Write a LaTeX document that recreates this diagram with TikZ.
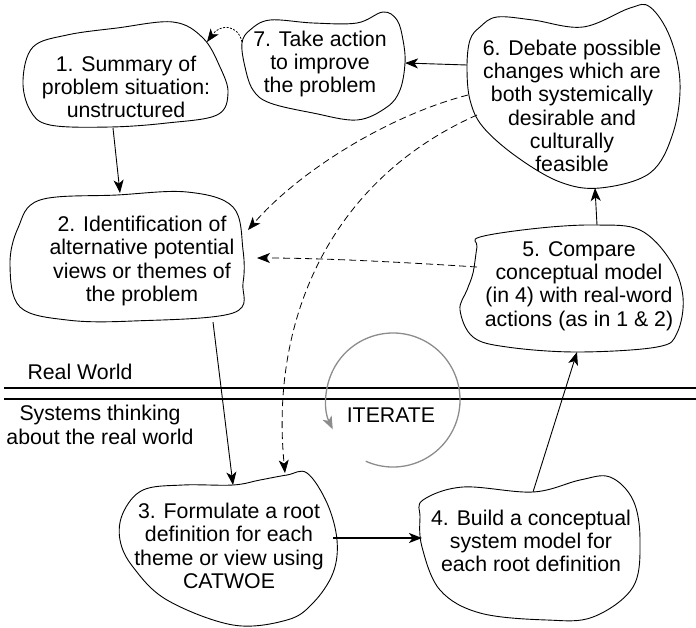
\documentclass[tikz,border=0pt]{standalone}
\usepackage{fontspec}
\setmainfont{Liberation Sans}
\usetikzlibrary{arrows.meta}
\tikzset{>={Stealth[length=13pt,width=10pt,inset=3.5pt]}}

\begin{document}
\begin{tikzpicture}[x=1pt,y=-1pt,
    txt/.style={align=center,font=\fontsize{21.3}{23.3}\selectfont,inner sep=0pt},
    blob/.style={line width=0.9pt},
    conn/.style={->,line width=0.9pt},
    dconn/.style={->,line width=0.8pt,dash pattern=on 7pt off 4pt}]
  \useasboundingbox (0,0) rectangle (696,627);

  % the seven stages
  \node[txt] (s1) at (126,87) {1. Summary of\\problem situation:\\unstructured};
  \draw[blob] plot[smooth cycle,tension=0.6] coordinates {(23,80) (33,47) (67,35) (117,28) (173,22) (203,38) (220,67) (228,93) (217,115) (167,123) (110,127) (50,125) (30,110)};

  \node[txt] (s2) at (142,261) {2. Identification of\\alternative potential\\views or themes of\\the problem};
  \draw[blob] plot[smooth cycle,tension=0.6] coordinates {(10,265) (18,228) (40,200) (117,195) (187,192) (233,207) (243,250) (243,283) (233,313) (133,321) (67,320) (20,307)};

  \node[txt] (s3) at (229,546) {3. Formulate a root\\definition for each\\theme or view using\\CATWOE};
  \draw[blob] plot[smooth cycle,tension=0.6] coordinates {(120,540) (123,513) (143,490) (183,485) (233,485) (260,480) (287,475) (307,473) (327,503) (337,540) (333,573) (313,603) (287,620) (233,625) (167,600) (133,567)};

  \node[txt] (s4) at (531,541) {4. Build a conceptual\\system model for\\each root definition};
  \draw[blob] plot[smooth cycle,tension=0.6] coordinates {(420,517) (423,500) (463,487) (533,492) (580,480) (610,477) (633,500) (640,540) (633,587) (593,617) (547,620) (480,613) (440,590) (422,547)};

  \node[txt] (s5) at (579,286) {5. Compare\\conceptual model\\(in 4) with real-word\\actions (as in 1 \& 2)};
  \draw[blob] plot[smooth cycle,tension=0.6] coordinates {(477,247) (480,237) (540,228) (597,225) (640,230) (670,260) (683,297) (677,333) (657,347) (577,352) (507,347) (473,337) (460,310) (467,290) (473,273)};

  \node[txt] (s6) at (572,106) {6. Debate possible\\changes which are\\both systemically\\desirable and\\culturally\\feasible};
  \draw[blob] plot[smooth cycle,tension=0.6] coordinates {(470,40) (480,27) (497,17) (533,20) (583,27) (630,8) (650,7) (670,37) (680,83) (673,133) (650,173) (600,188) (560,182) (517,157) (483,127) (470,100) (467,67)};

  \node[txt] (s7) at (320,64) {7. Take action\\to improve\\the problem};
  \draw[blob] plot[smooth cycle,tension=0.6] coordinates {(242,43) (250,30) (270,20) (313,23) (357,23) (383,12) (397,20) (403,40) (405,63) (400,90) (387,107) (357,120) (313,113) (270,103) (253,90) (245,67)};

  % ends of the connectors on the outlines
  \coordinate (s1-s) at (113,128);
  \coordinate (s1-ne) at (207,42);
  \coordinate (s2-n) at (120,193);
  \coordinate (s2-s) at (213,322);
  \coordinate (s2-e) at (257,258);
  \coordinate (s2-ne) at (248,230);
  \coordinate (s3-n) at (233,485);
  \coordinate (s3-nn) at (285,473);
  \coordinate (s3-e) at (333,538);
  \coordinate (s4-w) at (422,538);
  \coordinate (s4-n) at (533,492);
  \coordinate (s5-s) at (577,352);
  \coordinate (s5-n) at (597,225);
  \coordinate (s5-w) at (477,267);
  \coordinate (s6-s) at (595,188);
  \coordinate (s6-w) at (467,65);
  \coordinate (s6-w1) at (468,95);
  \coordinate (s6-w2) at (477,115);
  \coordinate (s7-e) at (405,63);
  \coordinate (s7-w) at (242,42);

  \draw[conn] (s1-s) -- (s2-n);
  \draw[conn] (s2-s) -- (s3-n);
  \draw[conn,line width=1.8pt] (s3-e) -- (s4-w);
  \draw[conn] (s4-n) -- (s5-s);
  \draw[conn] (s5-n) -- (s6-s);
  \draw[conn] (s6-w) -- (s7-e);
  \draw[->,line width=0.8pt,dash pattern=on 2pt off 1.5pt] (s7-w) .. controls (238,24) and (220,24) .. (s1-ne);
  \draw[dconn] (s5-w) .. controls (400,262) and (320,258) .. (s2-e);
  \draw[dconn] (s6-w1) .. controls (390,115) and (300,170) .. (s2-ne);
  \draw[dconn] (s6-w2) .. controls (330,180) and (270,320) .. (s3-nn);

  % real world / systems thinking divide
  \draw[line width=2.4pt] (4,388) -- (696,388);
  \draw[line width=2.4pt] (4,399) -- (696,399);
  \node[txt] (real) at (80,372) {Real World};
  \node[txt] (sys) at (100,425) {Systems thinking\\about the real world};

  % iterate loop
  \node[txt] (iter) at (391,415) {ITERATE};
  \coordinate (loop) at (393,400);
  \draw[->,black!45,line width=1.3pt] (loop) ++(114:67) arc[start angle=114,end angle=-206,radius=67];
\end{tikzpicture}
\end{document}
